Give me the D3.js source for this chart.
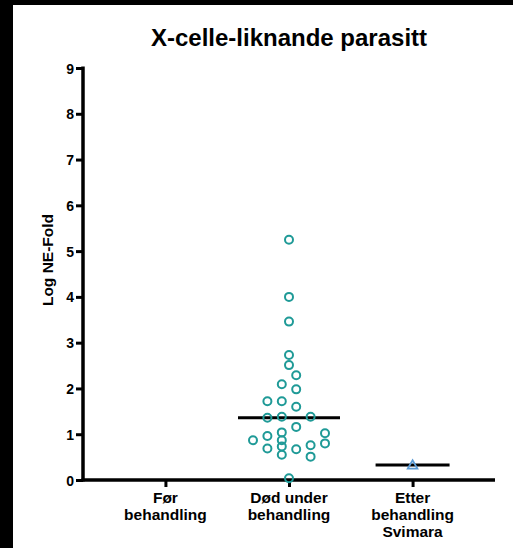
<!DOCTYPE html>
<html>
<head>
<meta charset="utf-8">
<script src="https://cdn.jsdelivr.net/npm/d3@7"></script>
<style>
  html, body { margin: 0; padding: 0; background: #000; }
  svg { display: block; }
  text { font-family: "Liberation Sans", Arial, sans-serif; font-weight: bold; fill: #000; }
</style>
</head>
<body>
<script>
// Groups on the x axis (each label split into lines)
const groups = ["Før behandling", "Død under behandling", "Etter behandling Svimara"];
const groupLines = [["Før", "behandling"], ["Død under", "behandling"], ["Etter", "behandling", "Svimara"]];

// Measured values, group "Død under behandling"
const deadValues = [5.25, 4.00, 3.46, 2.73, 2.51, 2.29, 2.09, 1.98, 1.72, 1.72, 1.60, 1.36, 1.38, 1.38,
                    1.16, 1.02, 1.04, 0.96, 0.87, 0.87, 0.80, 0.76, 0.69, 0.73, 0.67, 0.55, 0.51, 0.04];
// Scatter lane for each value (beeswarm column index)
const deadLanes = [0, 0, 0, 0, 0, 1, -1, 1, -3, -1, 1, -3, -1, 3,
                   1, 5, -1, -3, -5, -1, 5, 3, -3, -1, 1, -1, 3, 0];

// Measured values, group "Etter behandling Svimara"
const afterValues = [0.31];

// Median line per group
const medians = [null, 1.36, 0.33];

const yTicks = [0, 1, 2, 3, 4, 5, 6, 7, 8, 9];
const title = "X-celle-liknande parasitt";
const yTitle = "Log NE-Fold";

const W = 513, H = 548;
const svg = d3.select("body").append("svg").attr("width", W).attr("height", H);

// page frame
svg.append("rect").attr("x", 0).attr("y", 0).attr("width", W).attr("height", H).attr("fill", "#000");
svg.append("rect").attr("x", 13).attr("y", 5).attr("width", W - 13).attr("height", H - 5).attr("fill", "#fff");

const x = d3.scalePoint().domain(groups).range([83, 495]).padding(0.667);
const y = d3.scaleLinear().domain([0, 9]).range([480, 68]);
const laneWidth = 7.2;

// y axis
const yAxis = svg.append("g").attr("transform", "translate(83,0)")
  .call(d3.axisLeft(y).tickValues(yTicks).tickSize(7).tickPadding(2).tickFormat(d3.format("d")));
yAxis.select(".domain").attr("stroke", "#000").attr("stroke-width", 3.5)
  .attr("d", `M0,${y(9) - 1.5}V${y(0) + 1.5}`);
yAxis.selectAll(".tick line").attr("stroke", "#000").attr("stroke-width", 3);
yAxis.selectAll(".tick text").attr("font-size", 14).attr("dy", "0.36em");

// x axis
const xAxis = svg.append("g").attr("transform", "translate(0,480)")
  .call(d3.axisBottom(x).tickSize(7).tickFormat(""));
xAxis.select(".domain").attr("stroke", "#000").attr("stroke-width", 3.5)
  .attr("d", "M81.5,0H495");
xAxis.selectAll(".tick line").attr("stroke", "#000").attr("stroke-width", 3);

// category labels
groups.forEach((g, i) => {
  const t = svg.append("text").attr("x", x(g)).attr("y", 503)
    .attr("text-anchor", "middle").attr("font-size", 15.5);
  groupLines[i].forEach((line, j) => {
    t.append("tspan").attr("x", x(g)).attr("dy", j === 0 ? 0 : 17).text(line);
  });
});

// titles
svg.append("text").attr("x", 289).attr("y", 46).attr("text-anchor", "middle")
  .attr("font-size", 24).text(title);
svg.append("text").attr("transform", "translate(53,260) rotate(-90)")
  .attr("text-anchor", "middle").attr("font-size", 15.5).text(yTitle);

// median lines
const halfWidths = [0, 51, 37];
medians.forEach((m, i) => {
  if (m == null) return;
  const cx = x(groups[i]);
  svg.append("line").attr("x1", cx - halfWidths[i]).attr("x2", cx + halfWidths[i])
    .attr("y1", y(m)).attr("y2", y(m)).attr("stroke", "#000").attr("stroke-width", 3);
});

// points: open circles
svg.append("g").selectAll("circle").data(deadValues).join("circle")
  .attr("cx", (d, i) => x(groups[1]) + deadLanes[i] * laneWidth)
  .attr("cy", d => y(d)).attr("r", 4)
  .attr("fill", "none").attr("stroke", "#1f9a97").attr("stroke-width", 2);

// points: open triangles
const tri = d3.symbol().type(d3.symbolTriangle).size(40);
svg.append("g").selectAll("path").data(afterValues).join("path")
  .attr("transform", d => `translate(${x(groups[2])},${y(d)})`)
  .attr("d", tri).attr("fill", "none").attr("stroke", "#5b9bd5").attr("stroke-width", 1.8);
</script>
</body>
</html>
